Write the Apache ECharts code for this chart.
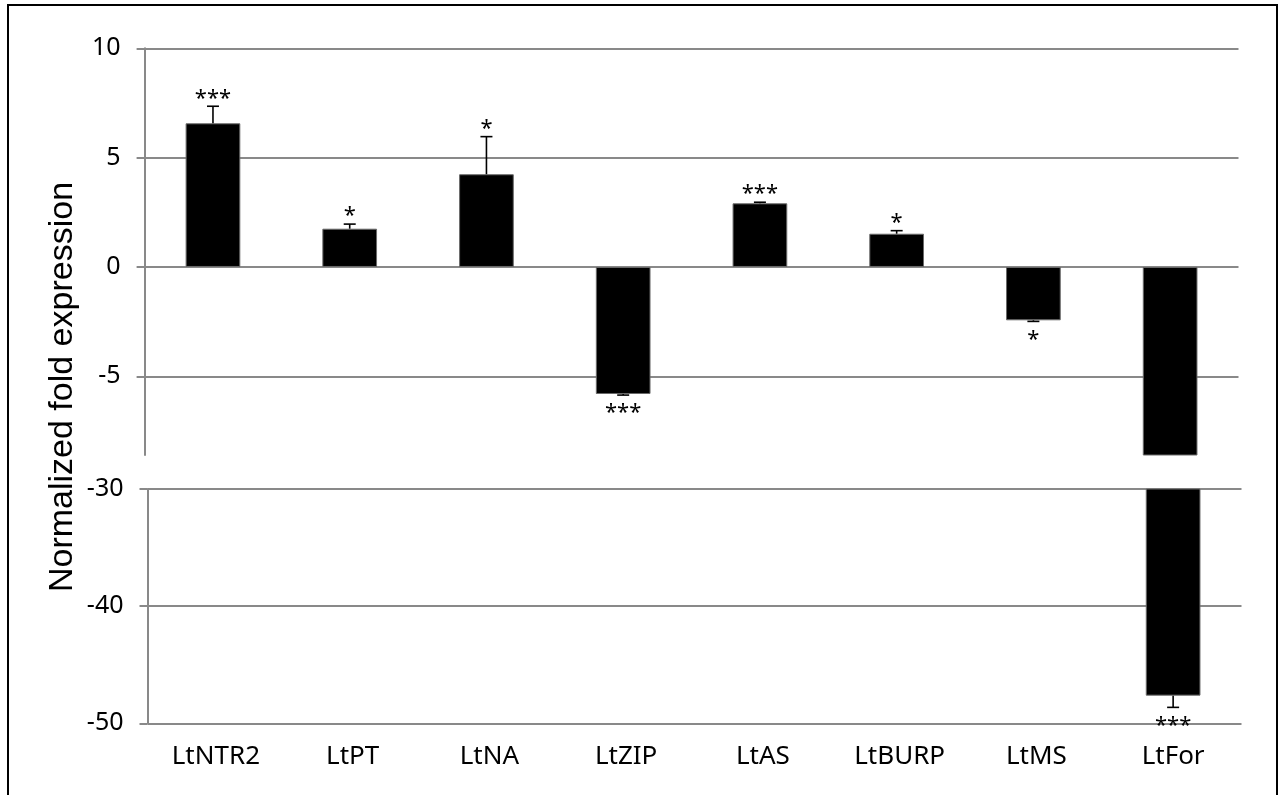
<!DOCTYPE html>
<html>
<head>
<meta charset="utf-8">
<script src="https://cdn.jsdelivr.net/npm/echarts@6/dist/echarts.min.js"></script>
<style>
  html, body { margin: 0; padding: 0; background: #fff; }
  #chart { width: 1279px; height: 795px; }
</style>
</head>
<body>
<div id="chart"></div>
<script>
// Genes and their normalized fold expression (mean ± error)
const categories = ['LtNTR2', 'LtPT', 'LtNA', 'LtZIP', 'LtAS', 'LtBURP', 'LtMS', 'LtFor'];
const foldChange = [6.57, 1.75, 4.24, -5.81, 2.91, 1.52, -2.44, -47.64];
const errorValue = [0.78, 0.21, 1.72, 0.05, 0.05, 0.14, 0.05, 1.0];
const significance = ['***', '*', '*', '***', '***', '*', '*', '***'];

// Broken value axis: upper and lower segments
const upperRange = [-8.6, 10];
const upperTicks = [-5, 0, 5, 10];
const lowerRange = [-50, -30];
const lowerTicks = [-50, -40, -30];

const GRID_COLOR = '#898989';
const LABEL_FONT = '"Noto Sans", sans-serif';

const barData = foldChange.map((v) => v);
const errData = foldChange.map((v, i) => [i, v, errorValue[i], significance[i]]);

function renderError(params, api) {
  const idx = api.value(0);
  const mean = api.value(1);
  const err = api.value(2);
  const sig = errData[params.dataIndex][3];
  const dir = mean >= 0 ? 1 : -1;
  const end = mean + dir * err;
  const cs = params.coordSys;
  const pBase = api.coord([idx, mean]);
  const pEnd = api.coord([idx, end]);
  // only draw in the segment that contains the whisker end
  if (pEnd[1] < cs.y - 0.5 || pEnd[1] > cs.y + cs.height + 0.5) return null;
  const x = pBase[0];
  const y0 = Math.min(Math.max(pBase[1], cs.y), cs.y + cs.height);
  const cap = 6;
  const style = { stroke: '#000', lineWidth: 1.6 };
  return {
    type: 'group',
    children: [
      { type: 'line', shape: { x1: x, y1: y0, x2: x, y2: pEnd[1] }, style },
      { type: 'line', shape: { x1: x - cap, y1: pEnd[1], x2: x + cap, y2: pEnd[1] }, style },
      {
        type: 'text',
        x: x,
        y: dir > 0 ? pEnd[1] - 8 : pEnd[1] + 18,
        style: {
          text: sig,
          font: '22px ' + LABEL_FONT,
          fill: '#000',
          align: 'center',
          verticalAlign: 'middle'
        }
      }
    ]
  };
}

const chart = echarts.init(document.getElementById('chart'));

const valueAxisCommon = {
  type: 'value',
  axisLine: { show: true, lineStyle: { color: GRID_COLOR, width: 2 } },
  axisTick: { show: true, length: 8, inside: false, lineStyle: { color: GRID_COLOR, width: 2 } },
  splitLine: { show: true, lineStyle: { color: GRID_COLOR, width: 2 } },
  axisLabel: { color: '#000', fontSize: 25, fontFamily: LABEL_FONT, margin: 24 }
};

const barStyle = { color: '#000', borderColor: '#6a6a6a', borderWidth: 1 };

chart.setOption({
  animation: false,
  backgroundColor: '#fff',
  grid: [
    { left: 144.6, right: 40.5, top: 48.3, height: 406.7, containLabel: false },
    { left: 147.5, right: 37.5, top: 489, height: 234.3, containLabel: false }
  ],
  xAxis: [
    {
      type: 'category', gridIndex: 0, data: categories,
      axisLine: { show: false }, axisTick: { show: false }, axisLabel: { show: false },
      splitLine: { show: false }
    },
    {
      type: 'category', gridIndex: 1, data: categories,
      axisLine: { show: false }, axisTick: { show: false },
      axisLabel: { color: '#000', fontSize: 26, fontFamily: LABEL_FONT, margin: 20, interval: 0 },
      splitLine: { show: false }
    }
  ],
  yAxis: [
    Object.assign({}, valueAxisCommon, {
      gridIndex: 0, min: upperRange[0], max: upperRange[1],
      axisTick: Object.assign({}, valueAxisCommon.axisTick, { customValues: upperTicks }),
      axisLabel: Object.assign({}, valueAxisCommon.axisLabel, { customValues: upperTicks })
    }),
    Object.assign({}, valueAxisCommon, {
      gridIndex: 1, min: lowerRange[0], max: lowerRange[1], interval: 10,
      axisTick: Object.assign({}, valueAxisCommon.axisTick, { customValues: lowerTicks }),
      axisLabel: Object.assign({}, valueAxisCommon.axisLabel, { customValues: lowerTicks })
    })
  ],
  series: [
    {
      type: 'bar', xAxisIndex: 0, yAxisIndex: 0, data: barData,
      barWidth: '40%', itemStyle: barStyle, clip: true, z: 3
    },
    {
      type: 'bar', xAxisIndex: 1, yAxisIndex: 1, data: barData,
      barWidth: '40%', itemStyle: barStyle, clip: true, z: 3
    },
    {
      type: 'custom', xAxisIndex: 0, yAxisIndex: 0, data: errData,
      renderItem: renderError, encode: { x: 0, y: 1 }, z: 4
    },
    {
      type: 'custom', xAxisIndex: 1, yAxisIndex: 1, data: errData,
      renderItem: renderError, encode: { x: 0, y: 1 }, z: 4
    }
  ],
  graphic: [
    {
      type: 'rect', z: 100, silent: true,
      shape: { x: 8, y: 5, width: 1269, height: 820 },
      style: { fill: 'none', stroke: '#000', lineWidth: 2 }
    },
    {
      type: 'text', z: 100, silent: true,
      x: 63, y: 387, rotation: Math.PI / 2,
      style: {
        text: 'Normalized fold expression',
        font: '34px "Liberation Sans", Arial, sans-serif',
        fill: '#000', align: 'center', verticalAlign: 'middle'
      }
    }
  ]
});
</script>
</body>
</html>
